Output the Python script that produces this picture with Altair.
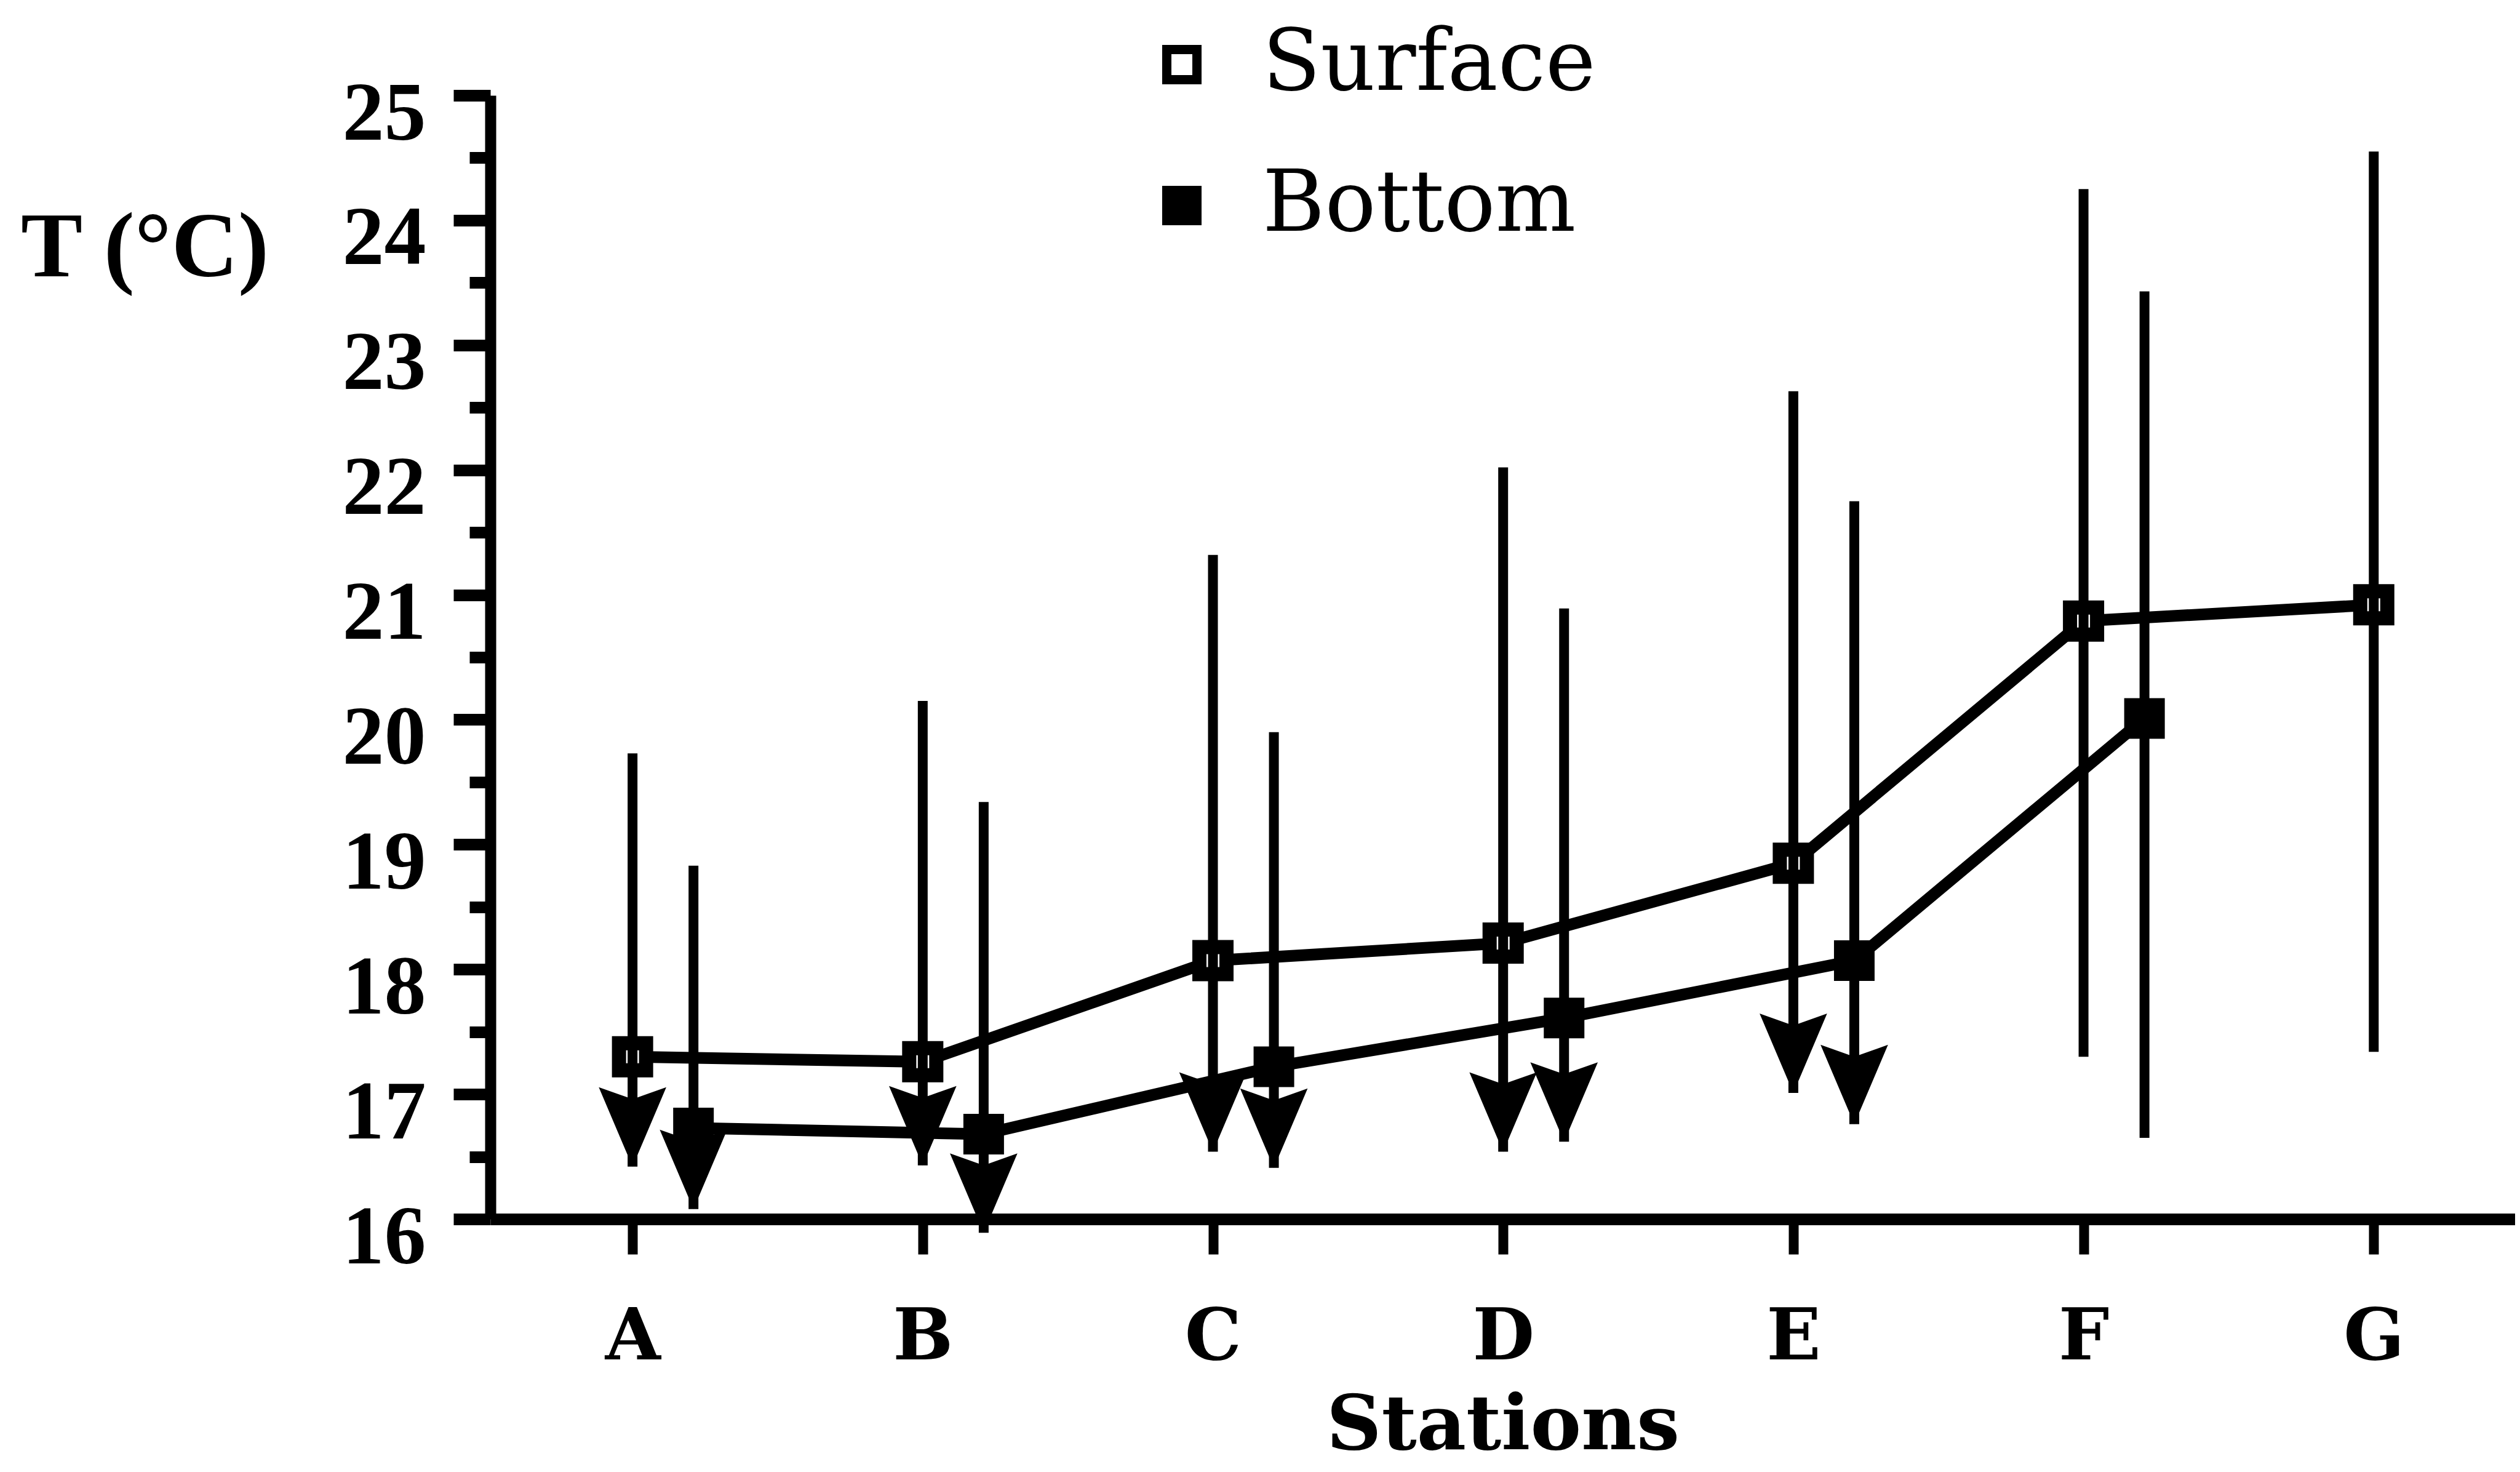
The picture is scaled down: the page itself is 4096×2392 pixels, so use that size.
import altair as alt
import pandas as pd

# ---- data ----
stations = ["A", "B", "C", "D", "E", "F", "G"]

surface_mean = [17.30, 17.26, 18.07, 18.21, 18.85, 20.79, 20.92]
surface_high = [19.73, 20.15, 21.32, 22.02, 22.63, 24.25, 24.55]
surface_low = [16.42, 16.43, 16.54, 16.54, 17.01, 17.30, 17.34]
surface_below = [True, True, True, True, True, False, False]

bottom_stations = ["A", "B", "C", "D", "E", "F"]
bottom_mean = [16.73, 16.68, 17.22, 17.61, 18.07, 20.01]
bottom_high = [18.83, 19.34, 19.90, 20.89, 21.75, 23.43]
bottom_low = [16.08, 15.89, 16.41, 16.62, 16.76, 16.65]
bottom_below = [True, True, True, True, True, False]

series_names = ["Surface", "Bottom"]
BOTTOM_SHIFT = 0.21  # bottom series drawn slightly right of the station

rows = []
for i, s in enumerate(stations):
    rows.append(dict(series="Surface", station=s, pos=i, mean=surface_mean[i],
                     high=surface_high[i], low=surface_low[i], below=surface_below[i]))
for i, s in enumerate(bottom_stations):
    rows.append(dict(series="Bottom", station=s, pos=stations.index(s) + BOTTOM_SHIFT,
                     mean=bottom_mean[i], high=bottom_high[i], low=bottom_low[i],
                     below=bottom_below[i]))
df = pd.DataFrame(rows)

ARROW = "M0,0 L-0.85,-2 L0,-1.7 L0.85,-2 Z"

label_list = "[" + ",".join("'%s'" % s for s in stations) + "]"

x_scale = alt.Scale(domain=[-0.49, 6.487], nice=False, zero=False)
y_scale = alt.Scale(domain=[16, 25], nice=False, zero=False)

x_axis = alt.Axis(
    values=list(range(len(stations))),
    labelExpr=label_list + "[datum.value]",
    tickSize=57, tickWidth=16, domainWidth=19,
    labelFont="DejaVu Serif", labelFontWeight="bold", labelFontSize=116,
    labelBaseline="alphabetic", labelPadding=170, labelOverlap=False, labelFlush=False,
    labelLimit=2000,
    title="Stations", titleFont="DejaVu Serif", titleFontWeight="bold",
    titleFontSize=124, titleBaseline="alphabetic", titleY=373, titleLimit=3000,
)

y_values = [16 + 0.5 * k for k in range(19)]
y_axis = alt.Axis(
    values=y_values,
    labelExpr="datum.value % 1 === 0 ? format(datum.value, 'd') : ''",
    tickSize={"condition": {"test": "datum.value % 1 === 0", "value": 60}, "value": 34},
    tickWidth=19, domainWidth=18,
    labelFont="Liberation Serif", labelFontWeight="bold", labelFontSize=136,
    labelPadding=45, labelOffset=30, labelOverlap=False, labelFlush=False,
    labelLimit=2000,
    title="T (°C)", titleAngle=0, titleFont="Liberation Serif", titleFontWeight="bold",
    titleFontSize=150, titleAlign="center", titleBaseline="alphabetic",
    titleX=-562, titleY=293, titleLimit=3000,
)

X = alt.X("pos:Q", scale=x_scale, axis=x_axis)


def Y(field):
    return alt.Y(field + ":Q", scale=y_scale, axis=y_axis)


base = alt.Chart(df)

lines = base.mark_line(color="black", strokeWidth=19).encode(
    x=X, y=Y("mean"), detail="series:N", order="pos:Q"
)

surface_sq = base.transform_filter(alt.datum.series == "Surface").mark_square(
    fill="white", stroke="black", strokeWidth=23, size=1936, opacity=1
).encode(x=X, y=Y("mean"))

bottom_sq = base.transform_filter(alt.datum.series == "Bottom").mark_square(
    size=4356, opacity=1
).encode(
    x=X, y=Y("mean"),
    fill=alt.Fill(
        "series:N",
        scale=alt.Scale(domain=series_names, range=["white", "black"]),
        legend=alt.Legend(
            title=None, orient="none", legendX=1055, legendY=-119,
            symbolType="square", symbolSize=2401, symbolStrokeWidth=15,
            symbolStrokeColor="black", symbolOpacity=1,
            labelFont="DejaVu Serif", labelFontSize=138, labelColor="black",
            labelOffset=62, rowPadding=91, padding=0, labelLimit=2000,
        ),
    ),
)

rules = base.mark_rule(color="black", strokeWidth=16).encode(
    x=X, y=Y("low"), y2=alt.Y2("high")
)

arrows = base.transform_filter(alt.datum.below == True).mark_point(
    shape=ARROW, filled=True, fill="black", strokeWidth=0, size=16641, opacity=1
).encode(x=X, y=Y("low"))

chart = alt.layer(lines, surface_sq, bottom_sq, rules, arrows).properties(
    width=3291, height=1826,
    padding={"left": 789, "top": 147, "right": 0, "bottom": 403},
    autosize=alt.AutoSizeParams(type="none"),
).configure_view(stroke=None).configure_axis(
    domainColor="black", tickColor="black", labelColor="black", titleColor="black", grid=False
)

chart.save("out.html", embed_options={"renderer": "svg", "actions": False})
